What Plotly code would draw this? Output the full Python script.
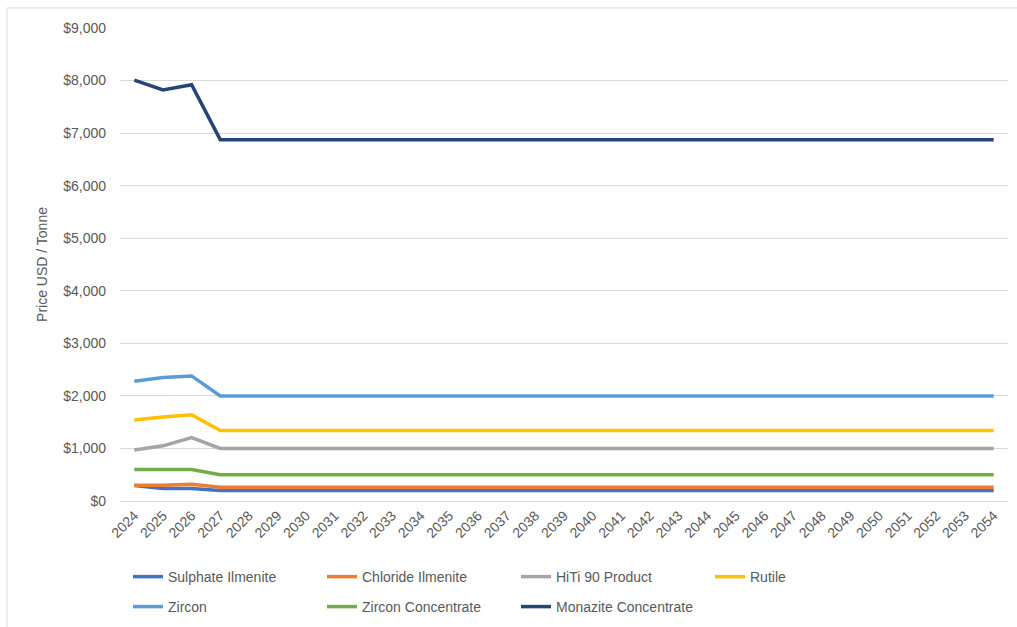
import plotly.graph_objects as go

# Forecast years (category axis)
years = [str(y) for y in range(2024, 2055)]

# Price forecasts, USD per tonne (2024, 2025, 2026, then flat from 2027)
sulphate_ilmenite = [295, 240, 240] + [200] * 28
chloride_ilmenite = [300, 300, 318] + [260] * 28
hiti_90 = [970, 1050, 1205] + [1000] * 28
rutile = [1540, 1600, 1640] + [1340] * 28
zircon = [2280, 2350, 2380] + [2000] * 28
zircon_conc = [600, 600, 600] + [500] * 28
monazite_conc = [8010, 7820, 7920] + [6875] * 28

y_ticks = list(range(0, 10000, 1000))
y_tick_labels = ["$" + f"{v:,}" for v in y_ticks]

series = [
    ("Sulphate Ilmenite", sulphate_ilmenite, "#4472C4", "legend"),
    ("Chloride Ilmenite", chloride_ilmenite, "#ED7D31", "legend"),
    ("HiTi 90 Product", hiti_90, "#A5A5A5", "legend"),
    ("Rutile", rutile, "#FFC000", "legend"),
    ("Zircon", zircon, "#5B9BD5", "legend2"),
    ("Zircon Concentrate", zircon_conc, "#70AD47", "legend2"),
    ("Monazite Concentrate", monazite_conc, "#264478", "legend2"),
]

FONT = "Liberation Sans"
TXT = "#595959"

fig = go.Figure()
for name, vals, color, leg in series:
    fig.add_trace(go.Scatter(
        x=years, y=vals, name=name, mode="lines",
        line=dict(color=color, width=3.5),
        legend=leg,
    ))

legend_common = dict(
    orientation="h", xanchor="left", yanchor="middle",
    entrywidth=149, entrywidthmode="pixels",
    font=dict(family=FONT, size=14, color=TXT),
    bgcolor="rgba(0,0,0,0)", itemclick=False, itemdoubleclick=False,
)

fig.update_layout(
    width=1017, height=627,
    margin=dict(l=120, r=9, t=28, b=126, autoexpand=False),
    paper_bgcolor="white", plot_bgcolor="white",
    font=dict(family=FONT, size=14, color=TXT),
    showlegend=True,
    legend=dict(x=0.009, y=-0.1607, **legend_common),
    legend2=dict(x=0.009, y=-0.2241, **legend_common),
    xaxis=dict(
        type="category", range=[-0.5, 30.5], automargin=False,
        tickangle=-45, showgrid=False, ticks="",
        showline=True, linecolor="#D9D9D9", linewidth=1,
        tickfont=dict(family=FONT, size=14, color=TXT),
        fixedrange=True,
    ),
    yaxis=dict(
        range=[0, 9000], tickvals=y_ticks, ticktext=y_tick_labels,
        automargin=False,
        showgrid=True, gridcolor="#D9D9D9", gridwidth=1,
        zeroline=False, ticks="", ticklabelstandoff=13,
        tickfont=dict(family=FONT, size=14, color=TXT),
        title=dict(text="Price USD / Tonne", standoff=12,
                   font=dict(family=FONT, size=14, color=TXT)),
        fixedrange=True,
    ),
    shapes=[dict(
        type="rect", xref="paper", yref="paper",
        x0=-0.1273, x1=1.03, y0=-0.28, y1=1.0423,
        line=dict(color="#D9D9D9", width=1), fillcolor="rgba(0,0,0,0)",
        layer="below",
    )],
)

fig.write_html("out.html")
